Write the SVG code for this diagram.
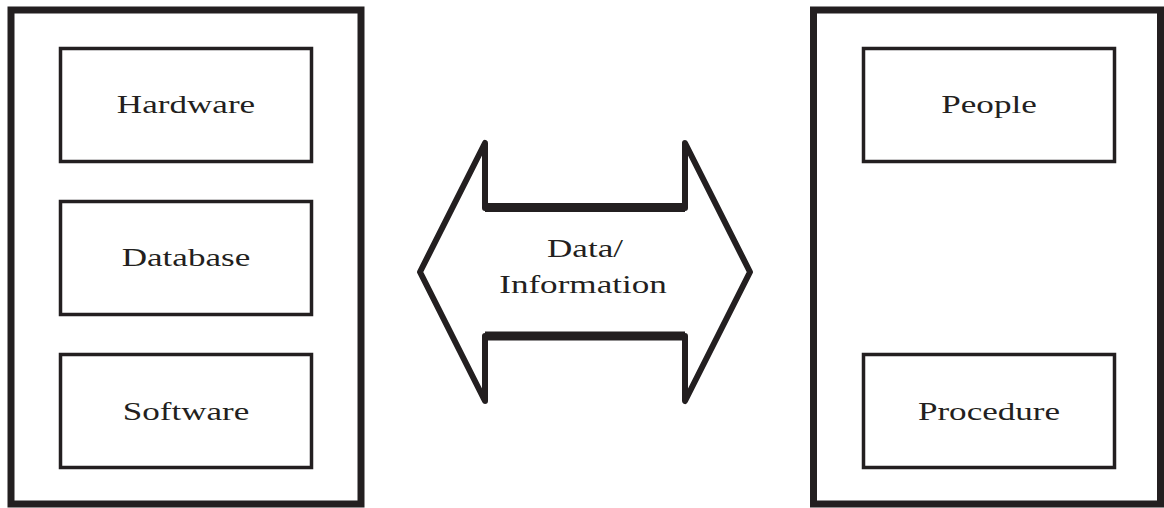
<svg xmlns="http://www.w3.org/2000/svg" width="1164" height="508" viewBox="0 0 1164 508">
<style>
.outer{fill:none;stroke:#231f20;stroke-width:7}
.inner{fill:#fff;stroke:#231f20;stroke-width:3.5}
.lbl{font-family:"Liberation Serif","Times New Roman",serif;font-size:26px;fill:#231f20;text-anchor:middle}
.arrow{fill:#fff;stroke:#231f20;stroke-width:6;stroke-linejoin:round}
.shaft{stroke:#231f20;stroke-width:9;stroke-linecap:butt}
</style>
<rect width="1164" height="508" fill="#fff"/>
<g id="left-system">
<rect class="outer" x="11" y="10" width="350" height="494"/>
</g>
<g id="hardware">
<rect class="inner" x="60.5" y="48.5" width="251" height="113"/>
<text class="lbl" transform="translate(186,113) scale(1.35,1)">Hardware</text>
</g>
<g id="database">
<rect class="inner" x="60.5" y="201.5" width="251" height="113"/>
<text class="lbl" transform="translate(186,266) scale(1.35,1)">Database</text>
</g>
<g id="software">
<rect class="inner" x="60.5" y="354.5" width="251" height="113"/>
<text class="lbl" transform="translate(186,420) scale(1.35,1)">Software</text>
</g>
<g id="right-system">
<rect class="outer" x="813.5" y="10" width="347" height="494"/>
</g>
<g id="people">
<rect class="inner" x="863.5" y="48.5" width="251" height="113"/>
<text class="lbl" transform="translate(989,113) scale(1.35,1)">People</text>
</g>
<g id="procedure">
<rect class="inner" x="863.5" y="354.5" width="251" height="113"/>
<text class="lbl" transform="translate(989,420) scale(1.35,1)">Procedure</text>
</g>
<g id="connectors">
<g id="data-information">
<polygon class="arrow" points="420,272 485,143 485,208 685,208 685,143 750,272 685,401 685,336 485,336 485,401"/>
<line class="shaft" x1="485" y1="207.5" x2="685" y2="207.5"/>
<line class="shaft" x1="485" y1="336" x2="685" y2="336"/>
<text class="lbl" transform="translate(585,257) scale(1.35,1)">Data/</text>
<text class="lbl" transform="translate(583,293) scale(1.35,1)">Information</text>
</g>
</g>
</svg>
